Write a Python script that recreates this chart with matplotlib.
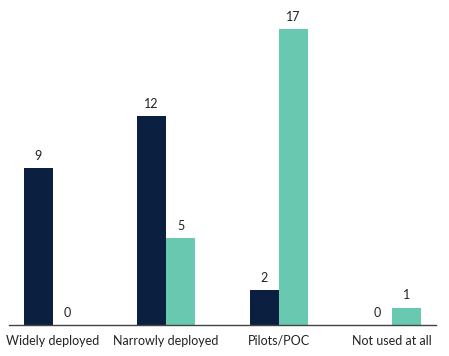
import numpy as np
import matplotlib.pyplot as plt

categories = ["Widely deployed", "Narrowly deployed", "Pilots/POC", "Not used at all"]
series_a = [9, 12, 2, 0]
series_b = [0, 5, 17, 1]

navy = "#0B1F40"
teal = "#68C8B0"

plt.rcParams['font.family'] = ['Lato', 'DejaVu Sans']

fig = plt.figure(figsize=(4.49, 3.56), dpi=100)
ax = fig.add_axes([9 / 449, 31 / 356, 427 / 449, 325 / 356])

x = np.arange(len(categories))
w = 0.26
b1 = ax.bar(x - w / 2, series_a, w, color=navy)
b2 = ax.bar(x + w / 2, series_b, w, color=teal)

for bars, vals in ((b1, series_a), (b2, series_b)):
    for r, v in zip(bars, vals):
        ax.text(r.get_x() + r.get_width() / 2, v + 0.35, str(v),
                ha="center", va="bottom", fontsize=9, color="#222222")

ax.set_xlim(-0.389, 3.389)
ax.set_ylim(0, 18.66)
ax.set_xticks(x)
ax.set_xticklabels(categories, fontsize=9, color="#222222")
ax.tick_params(axis="x", length=0, pad=7)
ax.set_yticks([])
for s in ("top", "right", "left"):
    ax.spines[s].set_visible(False)
ax.spines["bottom"].set_color("#444444")
ax.spines["bottom"].set_linewidth(1.0)

fig.savefig("out.png", dpi=100)
